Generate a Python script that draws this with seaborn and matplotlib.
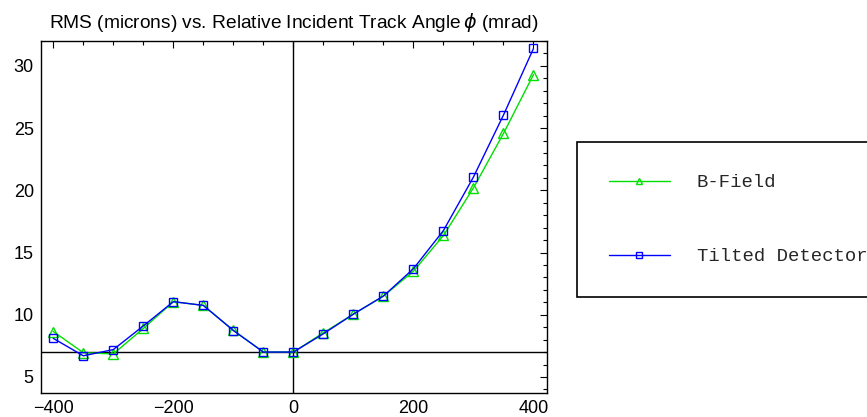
import numpy as np
import pandas as pd
import matplotlib
matplotlib.use("Agg")
import matplotlib.pyplot as plt
import seaborn as sns
from matplotlib.ticker import MultipleLocator

angles = [-400, -350, -300, -250, -200, -150, -100, -50, 0, 50, 100, 150, 200, 250, 300, 350, 400]
bfield = [8.65, 6.95, 6.85, 8.9, 11.05, 10.75, 8.75, 7.0, 7.0, 8.55, 10.05, 11.5, 13.5, 16.37, 20.2, 24.57, 29.3]
tilted = [8.1, 6.7, 7.2, 9.1, 11.05, 10.75, 8.73, 7.0, 7.0, 8.47, 10.05, 11.5, 13.7, 16.77, 21.07, 26.05, 31.4]
series_names = ["B-Field", "Tilted Detector"]
title_text = r"RMS (microns) vs. Relative Incident Track Angle$\,\phi$ (mrad)"

sns.set_theme(style="white")
plt.rcParams["font.family"] = ["Liberation Sans", "DejaVu Sans"]
plt.rcParams["mathtext.fontset"] = "dejavusans"

fig = plt.figure(figsize=(8.67, 4.17), dpi=100)
ax = fig.add_axes([40.7 / 867, 1 - 393 / 417, (546.7 - 40.7) / 867, (393 - 41) / 417])

df_b = pd.DataFrame({"angle": angles, "rms": bfield})
df_t = pd.DataFrame({"angle": angles, "rms": tilted})

ax.axvline(0, color="black", lw=1.0, zorder=1)
ax.axhline(7.0, color="black", lw=1.0, zorder=1)

sns.lineplot(data=df_b, x="angle", y="rms", ax=ax, color="#00e000", lw=1.0,
             marker="^", markersize=7, markerfacecolor="none", markeredgecolor="#00e000",
             markeredgewidth=1.0, label=series_names[0], zorder=3)
sns.lineplot(data=df_t, x="angle", y="rms", ax=ax, color="#0000ff", lw=1.0,
             marker="s", markersize=6, markerfacecolor="none", markeredgecolor="#0000ff",
             markeredgewidth=1.0, label=series_names[1], zorder=4)

ax.set_xlim(-421, 422)
ax.set_ylim(3.71, 32.0)
ax.set_xlabel("")
ax.set_ylabel("")
ax.xaxis.set_major_locator(MultipleLocator(200))
ax.xaxis.set_minor_locator(MultipleLocator(50))
ax.yaxis.set_major_locator(MultipleLocator(5))
ax.yaxis.set_minor_locator(MultipleLocator(1))
ax.tick_params(which="both", direction="in", top=True, right=True, colors="black",
               labelsize=13, width=0.8)
ax.tick_params(which="major", length=5, pad=5)
ax.tick_params(which="minor", length=3)
for sp in ax.spines.values():
    sp.set_color("black")
    sp.set_linewidth(1.0)

ax.set_title(title_text, fontsize=13.8, pad=9, color="black")

h, l = ax.get_legend_handles_labels()
ax.get_legend().remove()
leg = fig.legend(h, l, loc="upper left", bbox_to_anchor=(577 / 867, 1 - 142 / 417, 0.5, 0.0),
                 frameon=True, fancybox=False, framealpha=1, edgecolor="black",
                 prop={"family": "Liberation Mono", "size": 13.6},
                 handlelength=3.2, handletextpad=1.45, labelspacing=3.0, borderpad=1.7,
                 borderaxespad=0)
leg.get_frame().set_linewidth(1.2)
for hd in leg.legend_handles:
    hd.set_markersize(5)

fig.savefig("out.png", dpi=100)
